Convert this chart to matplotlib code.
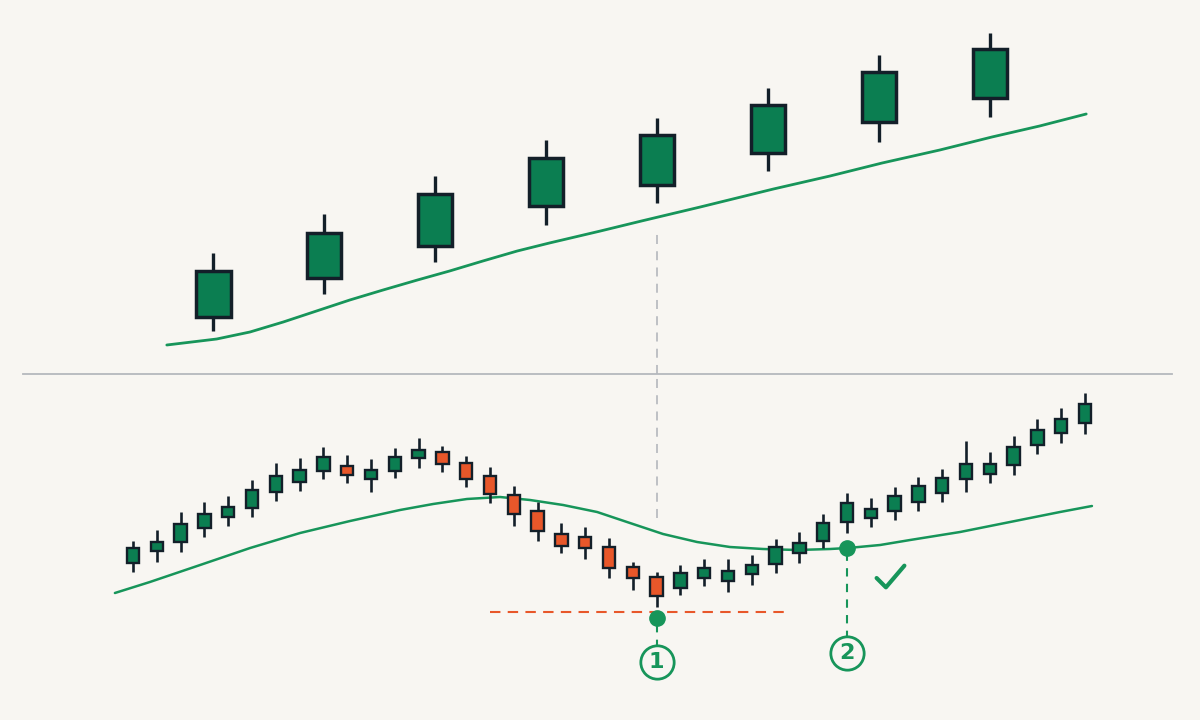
import matplotlib
matplotlib.use("Agg")
import matplotlib.pyplot as plt
from matplotlib.lines import Line2D
from matplotlib.markers import MarkerStyle
from matplotlib.path import Path

# ---- top panel: higher timeframe, 8 candles ----
top_open = [8.3, 12.2, 15.4, 19.4, 21.5, 24.7, 27.8, 30.2]
top_high = [14.7, 18.6, 22.4, 26.0, 28.2, 31.2, 34.5, 36.7]
top_low = [6.9, 10.6, 13.8, 17.5, 19.7, 22.9, 25.8, 28.3]
top_close = [12.9, 16.7, 20.6, 24.2, 26.5, 29.5, 32.8, 35.1]

top_ma_x = [-0.42, 0.03, 0.33, 0.63, 0.93, 1.23, 1.53, 1.84, 2.13, 2.43, 2.74, 3.03,
            3.49, 3.86, 4.39, 5.05, 5.56, 6.03, 6.55, 7.02, 7.45, 7.87]
top_ma = [5.5, 6.1, 6.8, 7.8, 8.9, 10.0, 11.0, 12.0, 12.9, 13.9, 14.9, 15.7,
          16.9, 17.9, 19.3, 21.1, 22.4, 23.7, 25.0, 26.3, 27.4, 28.6]

# ---- bottom panel: lower timeframe, 41 candles ----
bot_open = [7.7, 8.9, 9.8, 11.2, 12.3, 13.2, 14.8, 15.8, 16.9, 17.4, 16.1, 16.9, 18.2, 18.8,
            17.7, 16.4, 14.5, 12.9, 10.6, 10.3, 9.3, 7.3, 6.3, 5.2, 6.2, 5.9, 6.6, 7.6,
            8.7, 9.9, 11.8, 12.2, 12.9, 13.8, 14.7, 16.1, 16.6, 17.5, 19.5, 20.7, 21.7]
bot_close = [9.2, 9.8, 11.6, 12.6, 13.3, 15.0, 16.4, 17.0, 18.3, 16.5, 17.0, 18.3, 19.0, 17.6,
             16.1, 14.6, 12.6, 10.9, 9.4, 9.2, 7.2, 6.2, 4.4, 6.7, 7.2, 6.9, 7.5, 9.3,
             9.7, 11.7, 13.7, 13.1, 14.4, 15.4, 16.2, 17.6, 17.6, 19.3, 21.0, 22.1, 23.6]
bot_high = [9.9, 11.0, 12.8, 13.8, 14.4, 16.0, 17.7, 18.2, 19.3, 18.5, 18.1, 19.2, 20.2, 19.4,
            18.4, 17.3, 15.4, 13.8, 11.7, 11.3, 10.2, 7.8, 6.8, 7.5, 8.1, 8.1, 8.5, 10.1,
            10.8, 12.6, 14.7, 14.2, 15.3, 16.3, 17.1, 19.9, 18.8, 20.4, 22.1, 23.2, 24.7]
bot_low = [6.8, 7.8, 8.8, 10.3, 11.4, 12.3, 13.9, 14.9, 16.1, 15.7, 14.8, 16.2, 17.2, 16.8,
           15.3, 13.7, 11.4, 9.9, 8.7, 8.1, 6.2, 5.0, 3.3, 4.5, 5.4, 4.8, 5.5, 6.7,
           7.7, 9.2, 10.7, 11.3, 12.0, 12.9, 13.8, 14.8, 15.7, 16.5, 18.6, 19.7, 20.6]

bot_ma_x = [-0.76, 0.71, 2.82, 4.92, 7.02, 9.12, 11.22, 12.61, 14.03, 15.42, 16.68, 18.07,
            19.50, 20.88, 22.27, 23.70, 25.08, 26.47, 27.90, 29.29, 30.04, 31.39, 32.65,
            34.75, 36.85, 38.95, 40.29]
bot_ma = [4.7, 5.8, 7.5, 9.2, 10.7, 11.9, 13.0, 13.6, 14.1, 14.3, 14.0, 13.5,
          12.8, 11.7, 10.6, 9.8, 9.3, 9.1, 9.0, 9.1, 9.2, 9.5, 10.0,
          10.8, 11.8, 12.8, 13.4]

# annotations
support_level = 2.8
support_span = (15.0, 27.6)
signal_idx = [22, 30]
signal_price = [2.2, 9.2]
label_price = [-2.2, -1.3]
labels = ["1", "2"]
top_link_idx, top_link_price = 4, 17.0
bot_link_price = 12.2
check_pos = (31.79, 6.45)

BG = "#f8f6f2"
GREEN = "#0b7e51"
RED = "#e8572a"
EDGE = "#131f29"
LINE = "#17955a"
GRAY = "#b9bcc1"


def draw_candles(ax, o, h, l, c, width, lw_body, lw_wick):
    x = list(range(len(o)))
    ax.vlines(x, l, h, color=EDGE, lw=lw_wick, zorder=2)
    bottoms = [min(a, b) for a, b in zip(o, c)]
    heights = [abs(b - a) for a, b in zip(o, c)]
    colors = [GREEN if b >= a else RED for a, b in zip(o, c)]
    ax.bar(x, heights, bottom=bottoms, width=width, color=colors,
           edgecolor=EDGE, linewidth=lw_body, zorder=3)


fig = plt.figure(figsize=(12, 7.2), dpi=100, facecolor=BG)

ax_top = fig.add_axes([0, 1 - 374 / 720, 1, 374 / 720])
ax_bot = fig.add_axes([0, 0, 1, 346 / 720])
for ax in (ax_top, ax_bot):
    ax.set_facecolor(BG)
    ax.axis("off")

ax_top.set_xlim(-1.924, 8.896)
ax_top.set_ylim(2.6, 40)
ax_bot.set_xlim(-5.588, 44.83)
ax_bot.set_ylim(-8, 26.6)

draw_candles(ax_top, top_open, top_high, top_low, top_close, 0.31, 2.5, 2.4)
ax_top.plot(top_ma_x, top_ma, color=LINE, lw=2.0, solid_capstyle="round",
            solid_joinstyle="round", zorder=1)

draw_candles(ax_bot, bot_open, bot_high, bot_low, bot_close, 0.52, 1.7, 1.9)
ax_bot.plot(bot_ma_x, bot_ma, color=LINE, lw=1.8, solid_capstyle="round",
            solid_joinstyle="round", zorder=1)

# gray link between panels
ax_top.vlines(top_link_idx, 2.6, top_link_price, color=GRAY, lw=1.3,
              linestyles=(0, (5, 4)), zorder=0, clip_on=False)
ax_bot.vlines(signal_idx[0], bot_link_price, 26.6, color=GRAY, lw=1.3,
              linestyles=(0, (5, 4)), zorder=0, clip_on=False)

# divider
fig.add_artist(Line2D([23 / 1200, 1172 / 1200], [1 - 374 / 720] * 2,
                      color="#b5b8bd", lw=1.3))

# support line
ax_bot.hlines(support_level, *support_span, color=RED, lw=1.5,
              linestyles=(0, (5, 3.5)), zorder=1)

# signals and numbered labels
for xi, yp, ly, txt in zip(signal_idx, signal_price, label_price, labels):
    ax_bot.vlines(xi, ly + 1.4, yp, color=LINE, lw=1.5, linestyles=(0, (4, 3.5)), zorder=1)
    ax_bot.plot(xi, yp, "o", ms=11, color=LINE, mec=LINE, zorder=5)
    ax_bot.plot(xi, ly, "o", ms=24, mfc=BG, mec=LINE, mew=2.0, zorder=5)
    ax_bot.text(xi, ly, txt, ha="center", va="center", fontsize=16, color=LINE,
                fontweight="bold", zorder=6, family="DejaVu Sans")

# check mark drawn as an open-path marker
check = MarkerStyle(Path([(-1, -0.11), (-0.33, -0.78), (1, 0.78)]),
                    joinstyle="round", capstyle="round")
ax_bot.plot(*check_pos, marker=check, ms=20, mfc="none", mec=LINE, mew=3.0, zorder=5)

fig.savefig("out.png", dpi=100, facecolor=BG)
